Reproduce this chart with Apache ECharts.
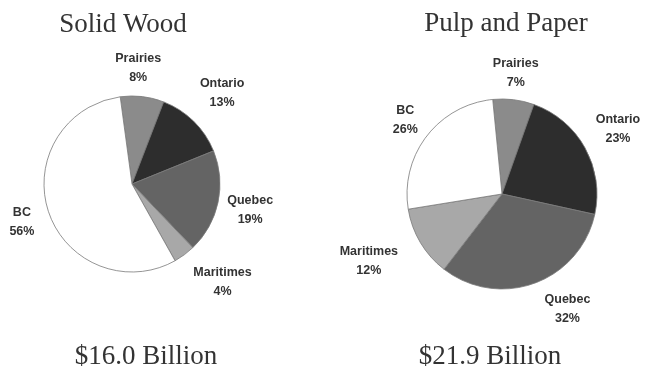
<!DOCTYPE html>
<html>
<head>
<meta charset="utf-8">
<script src="https://cdn.jsdelivr.net/npm/echarts@6/dist/echarts.min.js"></script>
<style>
  html, body { margin: 0; padding: 0; background: #ffffff; }
  #chart { width: 649px; height: 371px; }
</style>
</head>
<body>
<div id="chart"></div>
<script>
// Regional shares (%) of shipments for the two forest-product sectors
const regions = ['Prairies', 'Ontario', 'Quebec', 'Maritimes', 'BC'];
const solidWoodShares = [8, 13, 19, 4, 56];
const pulpPaperShares = [7, 23, 32, 12, 26];

const sectorTitles = ['Solid Wood', 'Pulp and Paper'];
const sectorTotals = ['$16.0 Billion', '$21.9 Billion'];

// Grey fill for each region
const regionColors = ['#8b8b8b', '#2d2d2d', '#646464', '#a8a8a8', '#ffffff'];

// Radial gap between pie rim and label centre, per region
const labelGapSolid = [25, 42, 40, 49, 26];
const labelGapPulp  = [26, 41, 35, 53, 27];
// Small extra shifts for labels that sit off the slice bisector
const labelShiftSolid = [[-7, -4], [-1, 2], [-7, -1], [9, -12], [-2, 2]];
const labelShiftPulp  = [[-1, -1], [-3, 1], [21, -7], [-6, -9], [0, 0]];

function buildData(shares, gaps) {
  return regions.map((name, i) => ({
    name: name,
    value: shares[i],
    itemStyle: { color: regionColors[i] },
    labelLine: { length: gaps[i], length2: 0, show: false }
  }));
}

function pieSeries(shares, gaps, shifts, center, radius, startAngle) {
  return {
    type: 'pie',
    center: center,
    radius: radius,
    startAngle: startAngle,
    clockwise: true,
    avoidLabelOverlap: false,
    data: buildData(shares, gaps),
    itemStyle: { borderColor: '#7a7a7a', borderWidth: 0.8 },
    label: {
      show: true,
      position: 'outside',
      distanceToLabelLine: 0,
      formatter: '{b}\n{c}%',
      fontFamily: 'Liberation Sans',
      fontWeight: 'bold',
      fontSize: 12.5,
      lineHeight: 19,
      color: '#333333'
    },
    labelLine: { show: false },
    labelLayout: function (params) {
      const s = shifts[params.dataIndex];
      return { align: 'center', dx: s[0], dy: s[1] };
    },
    emphasis: { disabled: true }
  };
}

const serif = { fontFamily: 'Liberation Serif', fontSize: 27, fontWeight: 'normal', color: '#333333' };

const chart = echarts.init(document.getElementById('chart'), null, { renderer: 'canvas' });
chart.setOption({
  animation: false,
  backgroundColor: '#ffffff',
  title: [
    { text: sectorTitles[0], left: 118, top: 6, textAlign: 'center', textStyle: serif },
    { text: sectorTitles[1], left: 501, top: 5, textAlign: 'center', textStyle: serif },
    { text: sectorTotals[0], left: 141, top: 338, textAlign: 'center', textStyle: serif },
    { text: sectorTotals[1], left: 485, top: 338, textAlign: 'center', textStyle: serif }
  ],
  series: [
    pieSeries(solidWoodShares, labelGapSolid, labelShiftSolid, [132, 184], 88, 97.7),
    pieSeries(pulpPaperShares, labelGapPulp, labelShiftPulp, [502, 194], 95, 95.6)
  ]
});
</script>
</body>
</html>
